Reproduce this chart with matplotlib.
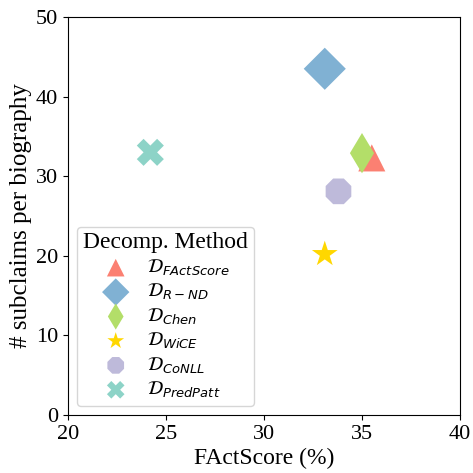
import matplotlib

matplotlib.use("Agg", force=True)

import matplotlib.pyplot as plt

plt.rcParams["font.family"] = ["Liberation Serif", "DejaVu Serif"]

# decomposition methods, FActScore (%) and subclaims per biography
methods = ["FActScore", "R-ND", "Chen", "WiCE", "CoNLL", "PredPatt"]
labels = [
    r"$\mathcal{D}_{FActScore}$",
    r"$\mathcal{D}_{R-ND}$",
    r"$\mathcal{D}_{Chen}$",
    r"$\mathcal{D}_{WiCE}$",
    r"$\mathcal{D}_{CoNLL}$",
    r"$\mathcal{D}_{PredPatt}$",
]
factscore = [35.5, 33.1, 35.0, 33.1, 33.8, 24.2]
subclaims = [32.3, 43.5, 32.9, 20.2, 28.1, 33.0]

markers = ["^", "D", "d", "*", "8", "X"]
colors = ["#fb8072", "#80b1d3", "#b3de69", "#ffd700", "#bebada", "#8dd3c7"]
sizes = [380, 460, 420, 380, 400, 380]

fig = plt.figure(figsize=(4.73, 4.73), dpi=100)
ax = fig.add_axes([0.1438, 0.1226, 0.8287, 0.8414])

for x, y, m, c, s, lab in zip(factscore, subclaims, markers, colors, sizes, labels):
    ax.scatter(x, y, marker=m, color=c, s=s, label=lab, edgecolors="none")

ax.set_xlim(20, 40)
ax.set_ylim(0, 50)
ax.set_xticks([20, 25, 30, 35, 40])
ax.set_yticks([0, 10, 20, 30, 40, 50])
ax.tick_params(labelsize=16)
ax.set_xlabel("FActScore (%)", fontsize=17, labelpad=3)
ax.set_ylabel("# subclaims per biography", fontsize=18, labelpad=3)

leg = ax.legend(
    title="Decomp. Method",
    loc="lower left",
    fontsize=13.5,
    title_fontsize=17,
    markerscale=0.65,
    labelspacing=0.22,
    handlelength=1.5,
    handletextpad=0.9,
    borderpad=0.3,
    borderaxespad=0.5,
    frameon=True,
)

fig.savefig("out.png", dpi=100)
